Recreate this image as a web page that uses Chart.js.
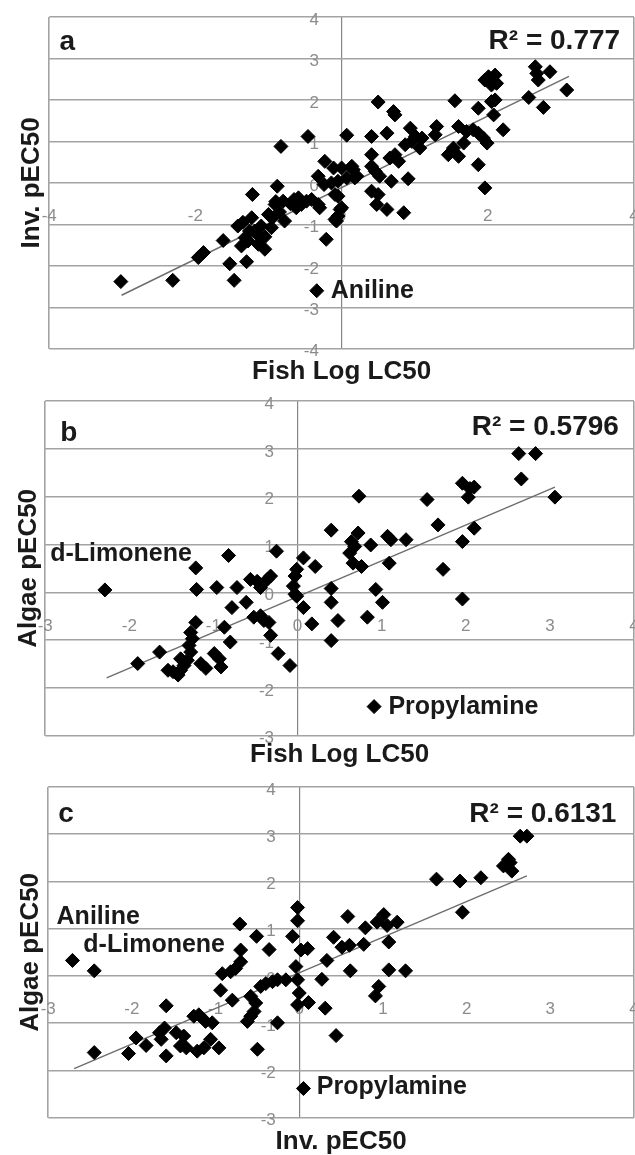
<!DOCTYPE html>
<html>
<head>
<meta charset="utf-8">
<script src="https://cdn.jsdelivr.net/npm/chart.js@4.4.1/dist/chart.umd.min.js"></script>
<style>
  html, body { margin: 0; padding: 0; background: #fff; overflow: hidden; }
  #wrap { position: relative; width: 635px; height: 1155px; overflow: hidden; }
  #wrap canvas { position: absolute; left: 0; }
</style>
</head>
<body>
<div id="wrap">
  <canvas id="panelA" width="650" height="390" style="top:0px"></canvas>
  <canvas id="panelB" width="650" height="390" style="top:385px"></canvas>
  <canvas id="panelC" width="650" height="390" style="top:770px"></canvas>
</div>
<script>
// panel a: Fish Log LC50 (x) vs Inv. pEC50 (y)
var aFish = [-3.02,-2.31,-1.96,-1.89,-1.62,-1.53,-1.47,-1.30,-1.22,-0.83,
  -0.46,0.07,-0.88,-1.42,-1.32,-1.23,-1.19,-1.14,-1.05,-1.00,
  -0.96,-0.91,-0.80,-0.78,-1.37,-1.10,-1.26,-0.59,-0.55,-0.48,
  -0.41,-0.32,-0.30,-0.62,-0.21,-0.09,-0.02,-0.05,-0.23,-0.32,
  -0.24,-0.14,0.00,0.16,0.18,-0.34,
  0.50,0.71,0.73,0.41,0.62,0.41,0.41,0.46,0.52,0.66,
  0.73,0.78,0.68,0.41,0.50,0.48,0.62,0.85,0.91,0.87,
  0.96,1.01,0.94,1.07,1.10,1.30,1.28,1.55,1.46,1.53,
  1.60,1.67,1.60,1.71,1.80,1.87,1.94,1.99,1.87,1.87,
  1.96,1.96,2.01,2.10,2.05,2.12,2.05,2.10,2.08,2.21,
  2.56,2.65,2.69,2.67,2.85,2.76,3.08,
  -0.11,0.14,-0.05,0.07,0.21,-0.09,0.00,-0.05,-0.07,-1.35,
  -1.15,-1.05,-0.85,-0.70,-0.95,-1.28,-0.65,-0.90];
var aInv = [-2.38,-2.35,-1.80,-1.68,-1.39,-1.95,-2.35,-1.90,-0.28,0.88,
  1.12,1.15,-0.08,-1.04,-1.32,-0.84,-1.16,-1.48,-1.60,-0.76,
  -1.08,-0.52,-0.44,-0.92,-1.52,-1.04,-1.16,-0.36,-0.52,-0.44,
  -0.40,-0.52,-0.60,-0.60,-1.36,-0.88,-0.64,-0.32,0.52,0.16,
  -0.04,0.00,0.36,0.32,0.12,-2.60,
  1.95,1.72,1.64,1.12,1.20,0.68,0.40,0.28,0.16,0.60,
  0.68,0.52,0.04,-0.20,-0.28,-0.52,-0.64,-0.72,0.10,0.92,
  1.00,1.12,1.32,0.84,1.08,1.36,1.16,1.98,0.68,0.84,
  0.64,0.96,1.36,1.24,1.28,1.20,1.08,0.96,1.80,0.44,
  -0.12,2.48,2.56,2.60,2.36,2.40,1.96,2.00,1.64,1.28,
  2.06,2.80,2.48,2.64,2.68,1.82,2.24,
  0.36,0.40,0.04,0.12,0.16,-0.28,-0.60,-0.80,-0.92,-0.95,
  -1.25,-1.30,-0.70,-0.50,-0.85,-1.40,-0.40,-0.45];
var aFitX = [-3.01, 3.11];
var aFitY = [-2.71, 2.57];

// panel b: Fish Log LC50 (x) vs Algae pEC50 (y)
var bFish = [-2.29,-1.90,-1.64,-1.54,-1.48,-1.42,-1.39,-1.21,-1.27,-1.25,
  -1.29,-1.27,-1.31,-1.35,-1.39,-1.21,-1.20,-0.82,-0.96,-1.15,
  -1.09,-0.99,-0.93,-0.91,-0.87,-0.80,-0.78,-0.72,-0.61,-0.56,
  -0.48,-0.44,-0.36,-0.32,-0.52,-0.44,-0.40,-0.34,-0.32,-0.23,
  -0.09,-0.25,0.07,0.21,-0.01,-0.03,-0.05,-0.03,-0.01,0.07,
  0.17,
  0.40,0.40,0.40,0.48,0.40,0.73,0.72,0.64,0.62,0.66,
  0.76,0.68,0.87,1.09,0.93,1.01,0.83,1.07,1.11,1.29,
  1.54,1.67,1.73,1.96,1.96,2.10,1.96,2.05,2.10,2.03,
  2.63,2.83,2.66,3.06,0.91];
var bAlgae = [0.05,-1.49,-1.25,-1.63,-1.66,-1.73,-1.63,-0.63,-0.84,-0.97,
  -1.11,-1.25,-1.42,-1.53,-1.39,0.51,0.06,0.77,0.10,-1.49,
  -1.59,-1.28,-1.39,-1.56,-0.73,-1.04,-0.32,0.10,-0.21,0.27,
  0.23,0.10,0.27,0.34,-0.52,-0.49,-0.59,-0.63,-0.90,-1.28,
  -1.53,0.86,0.72,0.54,0.48,0.34,0.13,-0.04,-0.08,-0.32,
  -0.66,
  1.30,0.08,-0.21,-0.59,-1.01,2.01,1.24,1.06,0.82,0.61,
  0.54,0.96,0.99,0.61,0.06,-0.21,-0.52,1.17,1.10,1.10,
  1.94,1.41,0.48,-0.14,1.06,1.34,2.28,2.17,2.20,1.99,
  2.90,2.90,2.37,1.99,-2.39];
var bFitX = [-2.27, 3.06];
var bFitY = [-1.79, 2.20];

// panel c: Inv. pEC50 (x) vs Algae pEC50 (y)
var cInv = [-2.71,-2.45,-2.45,-2.04,-1.95,-1.83,-1.59,-1.59,-1.67,-1.65,
  -1.61,-1.47,-1.38,-1.42,-1.35,-1.26,-1.20,-1.12,-1.04,-1.22,
  -1.14,-1.06,-0.96,-0.94,-0.80,-0.82,-0.76,-0.70,-0.70,-0.92,
  -0.71,-0.51,-0.36,-0.58,-0.52,-0.54,-0.58,-0.62,-0.50,-0.46,
  -0.40,-0.32,-0.26,-0.16,-0.26,-0.02,-0.02,-0.08,0.02,-0.04,
  -0.02,0.00,-0.02,0.11,0.10,0.05,
  0.31,0.27,0.33,0.41,0.51,0.60,0.58,0.61,0.44,0.77,
  0.79,0.95,0.91,0.93,1.01,1.05,1.17,1.07,1.07,1.27,
  1.64,1.92,2.17,1.95,2.44,2.50,2.54,2.52,2.64,2.72];
var cAlgae = [0.33,0.11,-1.62,-1.64,-1.31,-1.47,-0.63,-1.69,-1.20,-1.34,
  -1.10,-1.20,-1.27,-1.48,-1.52,-0.85,-0.82,-0.96,-0.99,-1.59,
  -1.52,-1.34,-1.52,-0.30,-0.51,0.09,0.16,0.30,0.55,0.05,
  1.10,0.84,0.56,-0.43,-0.57,-0.75,-0.85,-0.96,-1.55,-0.22,
  -0.16,-0.12,-0.08,-0.08,-0.99,1.45,1.17,0.84,0.55,0.20,
  -0.08,-0.36,-0.61,-0.56,0.58,-2.38,
  -0.68,-0.07,0.33,0.82,0.61,0.65,1.26,0.11,-1.26,0.67,
  1.02,-0.22,-0.42,1.14,1.30,1.07,1.14,0.72,0.13,0.11,
  2.05,2.01,2.08,1.35,2.33,2.47,2.22,2.40,2.96,2.96];
var cFitX = [-2.69, 2.72];
var cFitY = [-1.96, 2.12];

Chart.defaults.font.family = '"Liberation Sans", Arial, sans-serif';

function pairs(xs, ys) {
  return xs.map(function(v, i) { return {x: v, y: ys[i]}; });
}

// panel letter, R² and compound names, placed in data units
var panelText = {
  id: 'panelText',
  afterDatasetsDraw: function(chart, args, opts) {
    var ctx = chart.ctx, xs = chart.scales.x, ys = chart.scales.y;
    ctx.save();
    ctx.fillStyle = '#1a1a1a';
    ctx.textBaseline = 'middle';
    (opts.items || []).forEach(function(t) {
      ctx.font = 'bold ' + t.size + 'px "Liberation Sans", Arial, sans-serif';
      ctx.textAlign = t.align || 'left';
      ctx.fillText(t.text, xs.getPixelForValue(t.x), ys.getPixelForValue(t.y));
    });
    ctx.restore();
  }
};

function makePanel(id, p) {
  var xMin = p.xMin, xMax = p.xMax;
  return new Chart(document.getElementById(id), {
    type: 'scatter',
    data: {
      datasets: [
        {
          data: pairs(p.xs, p.ys),
          xAxisID: 'x', yAxisID: 'y',
          pointStyle: 'rectRot',
          pointRadius: 7,
          backgroundColor: '#000',
          borderColor: '#000',
          borderWidth: 1
        },
        {
          data: pairs(p.fitX, p.fitY),
          xAxisID: 'x', yAxisID: 'y',
          showLine: true,
          pointRadius: 0,
          borderColor: '#6e6e6e',
          borderWidth: 1.5
        }
      ]
    },
    options: {
      responsive: false,
      animation: false,
      layout: { padding: { top: p.top, right: 16, left: 0, bottom: 0 } },
      plugins: {
        legend: { display: false },
        tooltip: { enabled: false },
        panelText: { items: p.notes }
      },
      scales: {
        // labels sit a little below the y = 0 line, as in the original
        x: {
          type: 'linear',
          position: { y: p.xLabelAt },
          min: xMin, max: xMax,
          ticks: { stepSize: p.xStep, color: '#8c8c8c', font: { size: 17 }, padding: 0, maxRotation: 0, autoSkip: false },
          grid: {
            color: function(c) {
              var v = c.tick ? c.tick.value : null;
              if (v === 0) return '#858585';
              if (v === xMin || v === xMax) return '#a3a3a3';
              return 'rgba(0,0,0,0)';
            },
            lineWidth: function(c) { return c.tick && c.tick.value === 0 ? 1.2 : 1.6; },
            drawTicks: false
          },
          border: { display: false }
        },
        // labels sit left of the x = 0 line
        y: {
          type: 'linear',
          position: { x: p.yLabelAt },
          min: p.yMin, max: p.yMax,
          ticks: { stepSize: 1, color: '#8c8c8c', font: { size: 17 }, padding: 0, labelOffset: 3 },
          grid: { color: '#a3a3a3', lineWidth: 1.6, drawTicks: false },
          border: { display: false }
        },
        xt: {
          type: 'linear', axis: 'x', position: 'bottom', min: 0, max: 1,
          ticks: { display: false },
          grid: { display: false, drawTicks: false },
          border: { display: false },
          title: { display: true, text: p.xTitle, color: '#1a1a1a', font: { size: 26, weight: 'bold' }, padding: { top: p.xtPad[0], bottom: p.xtPad[1] } }
        },
        yt: {
          type: 'linear', axis: 'y', position: 'left', min: 0, max: 1,
          ticks: { display: false },
          grid: { display: false, drawTicks: false },
          border: { display: false },
          title: { display: true, text: p.yTitle, color: '#1a1a1a', font: { size: 26, weight: 'bold' }, padding: { top: p.ytPad[0], bottom: p.ytPad[1] } }
        }
      }
    },
    plugins: [panelText]
  });
}

makePanel('panelA', {
  xs: aFish, ys: aInv, fitX: aFitX, fitY: aFitY,
  xMin: -4, xMax: 4, xStep: 2, yMin: -4, yMax: 4,
  xLabelAt: -0.55, yLabelAt: -0.31,
  top: 17, xtPad: [7, 3], ytPad: [16, 2],
  xTitle: 'Fish Log LC50', yTitle: 'Inv. pEC50',
  notes: [
    { text: 'a', x: -3.86, y: 3.39, size: 28 },
    { text: 'R\u00b2 = 0.777', x: 3.81, y: 3.41, size: 28, align: 'right' },
    { text: 'Aniline', x: -0.15, y: -2.6, size: 25 }
  ]
});

makePanel('panelB', {
  xs: bFish, ys: bAlgae, fitX: bFitX, fitY: bFitY,
  xMin: -3, xMax: 4, xStep: 1, yMin: -3, yMax: 4,
  xLabelAt: -0.49, yLabelAt: -0.28,
  top: 16, xtPad: [3, 5], ytPad: [13, 1],
  xTitle: 'Fish Log LC50', yTitle: 'Algae pEC50',
  notes: [
    { text: 'b', x: -2.82, y: 3.33, size: 28 },
    { text: 'R\u00b2 = 0.5796', x: 3.82, y: 3.45, size: 28, align: 'right' },
    { text: 'd-Limonene', x: -2.94, y: 0.79, size: 25 },
    { text: 'Propylamine', x: 1.08, y: -2.39, size: 25 }
  ]
});

makePanel('panelC', {
  xs: cInv, ys: cAlgae, fitX: cFitX, fitY: cFitY,
  xMin: -3, xMax: 4, xStep: 1, yMin: -3, yMax: 4,
  xLabelAt: -0.49, yLabelAt: -0.28,
  top: 17, xtPad: [8, 3], ytPad: [15, 2],
  xTitle: 'Inv. pEC50', yTitle: 'Algae pEC50',
  notes: [
    { text: 'c', x: -2.88, y: 3.42, size: 28 },
    { text: 'R\u00b2 = 0.6131', x: 3.79, y: 3.42, size: 28, align: 'right' },
    { text: 'Aniline', x: -2.9, y: 1.24, size: 25 },
    { text: 'd-Limonene', x: -2.58, y: 0.65, size: 25 },
    { text: 'Propylamine', x: 0.21, y: -2.34, size: 25 }
  ]
});
</script>
</body>
</html>
